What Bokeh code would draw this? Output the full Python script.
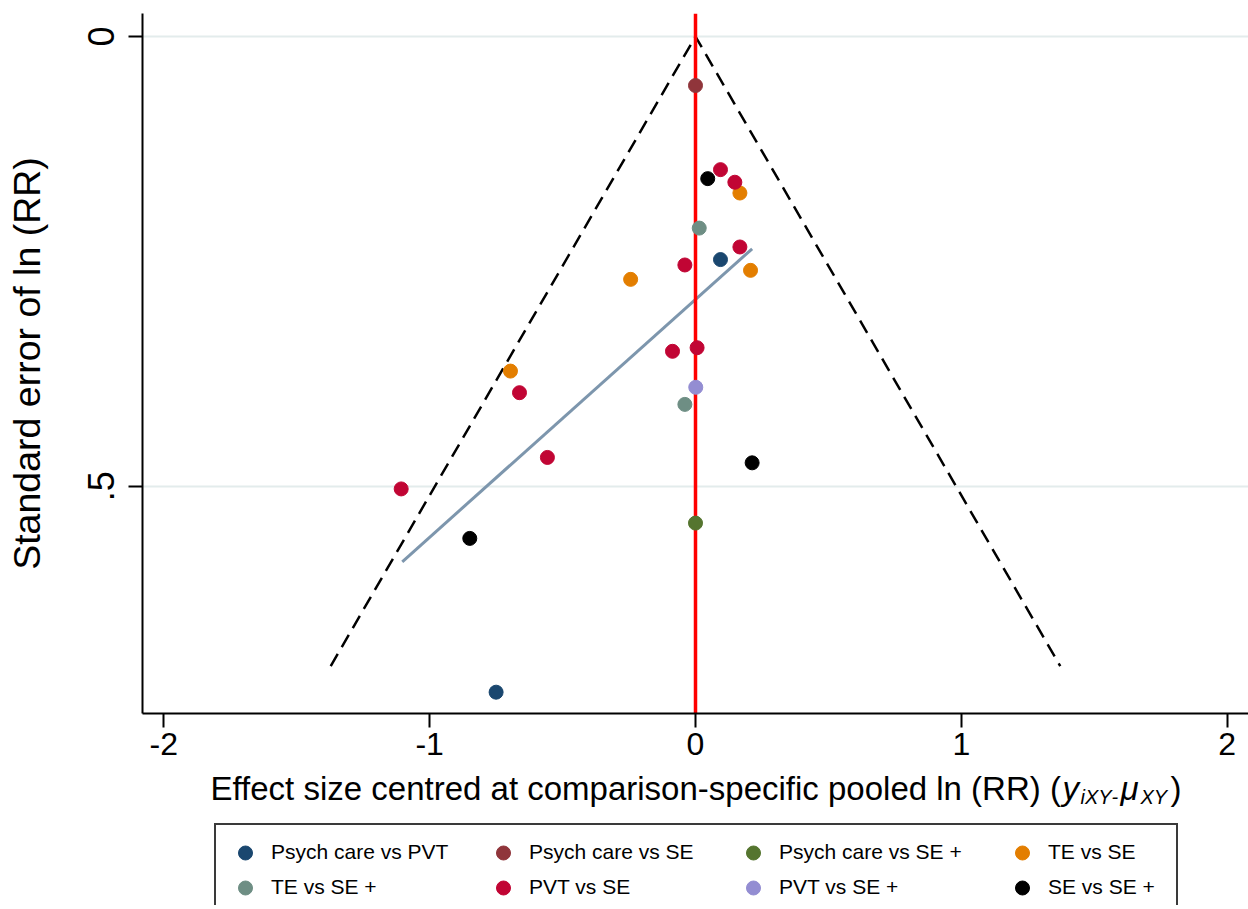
from bokeh.plotting import figure
from bokeh.layouts import column
from bokeh.models import Range1d, FixedTicker, Legend, LegendItem, Label
from bokeh.embed import file_html
from bokeh.resources import INLINE

# ---------------- data ----------------
groups = ["Psych care vs PVT", "Psych care vs SE", "Psych care vs SE +", "TE vs SE",
          "TE vs SE +", "PVT vs SE", "PVT vs SE +", "SE vs SE +"]
colors = ["#1a476f", "#90353b", "#55752f", "#e37e00",
          "#6e8e84", "#c10534", "#938dd2", "#000000"]

psych_pvt_x = [0.094, -0.750]
psych_pvt_se = [0.248, 0.729]
psych_se_x = [0.000]
psych_se_se = [0.0545]
psych_seplus_x = [0.000]
psych_seplus_se = [0.541]
te_se_x = [0.167, 0.207, -0.244, -0.696]
te_se_se = [0.174, 0.260, 0.270, 0.372]
te_seplus_x = [0.014, -0.040]
te_seplus_se = [0.213, 0.409]
pvt_se_x = [0.094, 0.148, 0.167, -0.040, -0.0865, 0.006, -0.662, -0.557, -1.107]
pvt_se_se = [0.148, 0.162, 0.234, 0.254, 0.350, 0.346, 0.396, 0.468, 0.503]
pvt_seplus_x = [0.001]
pvt_seplus_se = [0.390]
se_seplus_x = [0.046, 0.213, -0.849]
se_seplus_se = [0.158, 0.474, 0.558]

group_x = [psych_pvt_x, psych_se_x, psych_seplus_x, te_se_x,
           te_seplus_x, pvt_se_x, pvt_seplus_x, se_seplus_x]
group_se = [psych_pvt_se, psych_se_se, psych_seplus_se, te_se_se,
            te_seplus_se, pvt_se_se, pvt_seplus_se, se_seplus_se]

# pseudo 95% CI funnel and regression line
funnel_x = [-1.372, 0.0, 1.372]
funnel_se = [0.700, 0.0, 0.700]
reg_x = [-1.103, 0.213]
reg_se = [0.584, 0.236]
null_effect = 0.0

xtick_values = [-2, -1, 0, 1, 2]
xtick_labels = ["-2", "-1", "0", "1", "2"]
ytick_values = [0, 0.5]
ytick_labels = ["0", ".5"]

FONT = "Liberation Sans"

# ---------------- main figure ----------------
X0, X1 = -2.080, 2.080
Y_TOP, Y_BOT = -0.0256, 0.7527
MAIN_H = 768

p = figure(width=1248, height=MAIN_H, x_range=Range1d(X0, X1), y_range=Range1d(Y_BOT, Y_TOP),
           output_backend="svg", toolbar_location=None,
           min_border_left=142, min_border_right=0, min_border_top=13, min_border_bottom=MAIN_H - 713)
p.outline_line_color = None
p.background_fill_color = "white"
p.border_fill_color = "white"

p.xgrid.visible = False
p.ygrid.ticker = FixedTicker(ticks=ytick_values)
p.ygrid.grid_line_color = "#e3ecec"
p.ygrid.grid_line_width = 2

for ax in (p.xaxis[0], p.yaxis[0]):
    ax.axis_line_width = 2
    ax.axis_line_color = "black"
    ax.major_tick_line_width = 2
    ax.major_tick_line_color = "black"
    ax.major_tick_out = 14
    ax.major_tick_in = 0
    ax.minor_tick_out = 0
    ax.minor_tick_in = 0
    ax.major_label_text_font = FONT
    ax.major_label_text_color = "black"

p.xaxis.ticker = FixedTicker(ticks=xtick_values)
p.xaxis.major_label_overrides = dict(zip(xtick_values, xtick_labels))
p.xaxis.major_label_text_font_size = "32px"
p.xaxis.major_label_standoff = 5

p.yaxis.ticker = FixedTicker(ticks=ytick_values)
p.yaxis.major_label_overrides = dict(zip(ytick_values, ytick_labels))
p.yaxis.major_label_text_font_size = "36px"
p.yaxis.major_label_orientation = "vertical"
p.yaxis.major_label_standoff = 14
p.yaxis.axis_label = "Standard error of ln (RR)"
p.yaxis.axis_label_text_font = FONT
p.yaxis.axis_label_text_font_size = "37.5px"
p.yaxis.axis_label_text_font_style = "normal"
p.yaxis.axis_label_text_color = "black"
p.yaxis.axis_label_standoff = 38

# lines
p.line(funnel_x, funnel_se, line_color="black", line_width=2.5, line_dash="14 8")
p.line(reg_x, reg_se, line_color="#7d96ad", line_width=3)
p.line([null_effect, null_effect], [Y_TOP, Y_BOT], line_color="#ff0000", line_width=3.5)

# points
for gx, gs, c in zip(group_x, group_se, colors):
    p.scatter(gx, gs, size=14, marker="circle", fill_color=c, line_color=c, line_width=1)

# ---------------- bottom strip: x title + legend ----------------
B_TOP, B_BOT = MAIN_H, 905
FL = 142  # frame left (aligned with the main plot by the column layout)
pb = figure(width=1248, height=B_BOT - B_TOP, x_range=Range1d(FL, 1248), y_range=Range1d(B_BOT, B_TOP),
            output_backend="svg", toolbar_location=None, x_axis_type=None, y_axis_type=None,
            min_border_left=FL, min_border_right=0, min_border_top=0, min_border_bottom=0)
pb.outline_line_color = None
pb.background_fill_color = "white"
pb.border_fill_color = "white"
pb.xgrid.visible = False
pb.ygrid.visible = False

# legend keys: same series drawn in this strip (they fall outside its ranges, only the keys show)
keys = [pb.scatter(gx, gs, size=14, marker="circle", fill_color=c, line_color=c)
        for gx, gs, c in zip(group_x, group_se, colors)]

SH = B_BOT - B_TOP
col_items = [[0, 4], [1, 5], [2, 6], [3, 7]]
glyph_cx = [243, 503, 753, 1022]
ROW1_CY = 852
for ci, (items, gcx) in enumerate(zip(col_items, glyph_cx)):
    pad = 10 if ci == 0 else 0
    h = 2 * pad + 2 * 35
    top = (ROW1_CY + 2 - pad - 17.5) if ci == 0 else (ROW1_CY - 17.5)
    vy = SH - (top - B_TOP) - h
    vx = gcx - 19 - pad - FL
    leg = Legend(items=[LegendItem(label=groups[k], renderers=[keys[k]]) for k in items],
                 location=(vx, vy), orientation="vertical",
                 glyph_width=38, glyph_height=35, label_standoff=7, spacing=0,
                 padding=pad, margin=0,
                 label_text_font=FONT, label_text_font_size="21px", label_text_color="black")
    if ci == 0:
        leg.border_line_color = "#3a3a3a"
        leg.border_line_alpha = 1.0
        leg.border_line_width = 2
        leg.background_fill_color = "white"
        leg.background_fill_alpha = 1.0
        leg.label_width = 895
    else:
        leg.border_line_color = None
        leg.background_fill_alpha = 0
    pb.add_layout(leg)

title_parts = [
    ("Effect size centred at comparison-specific pooled ln (RR) (", 210, 787.5, "33px", "normal"),
    ("y", 1062, 787.5, "33px", "italic"),
    ("iXY", 1080, 796.5, "20px", "italic"),
    ("-", 1111, 796.5, "20px", "italic"),
    ("\u03bc", 1120, 787.5, "33px", "italic"),
    ("XY", 1140, 796.5, "20px", "italic"),
    (")", 1170, 787.5, "33px", "normal"),
]
for txt, lx, ly, fs, st in title_parts:
    pb.add_layout(Label(x=lx, y=ly, text=txt, text_font=FONT, text_font_size=fs,
                        text_font_style=st, text_color="black", text_align="left",
                        text_baseline="middle"))

layout = column(p, pb, spacing=0)
open("out.html", "w").write(file_html(layout, INLINE))
